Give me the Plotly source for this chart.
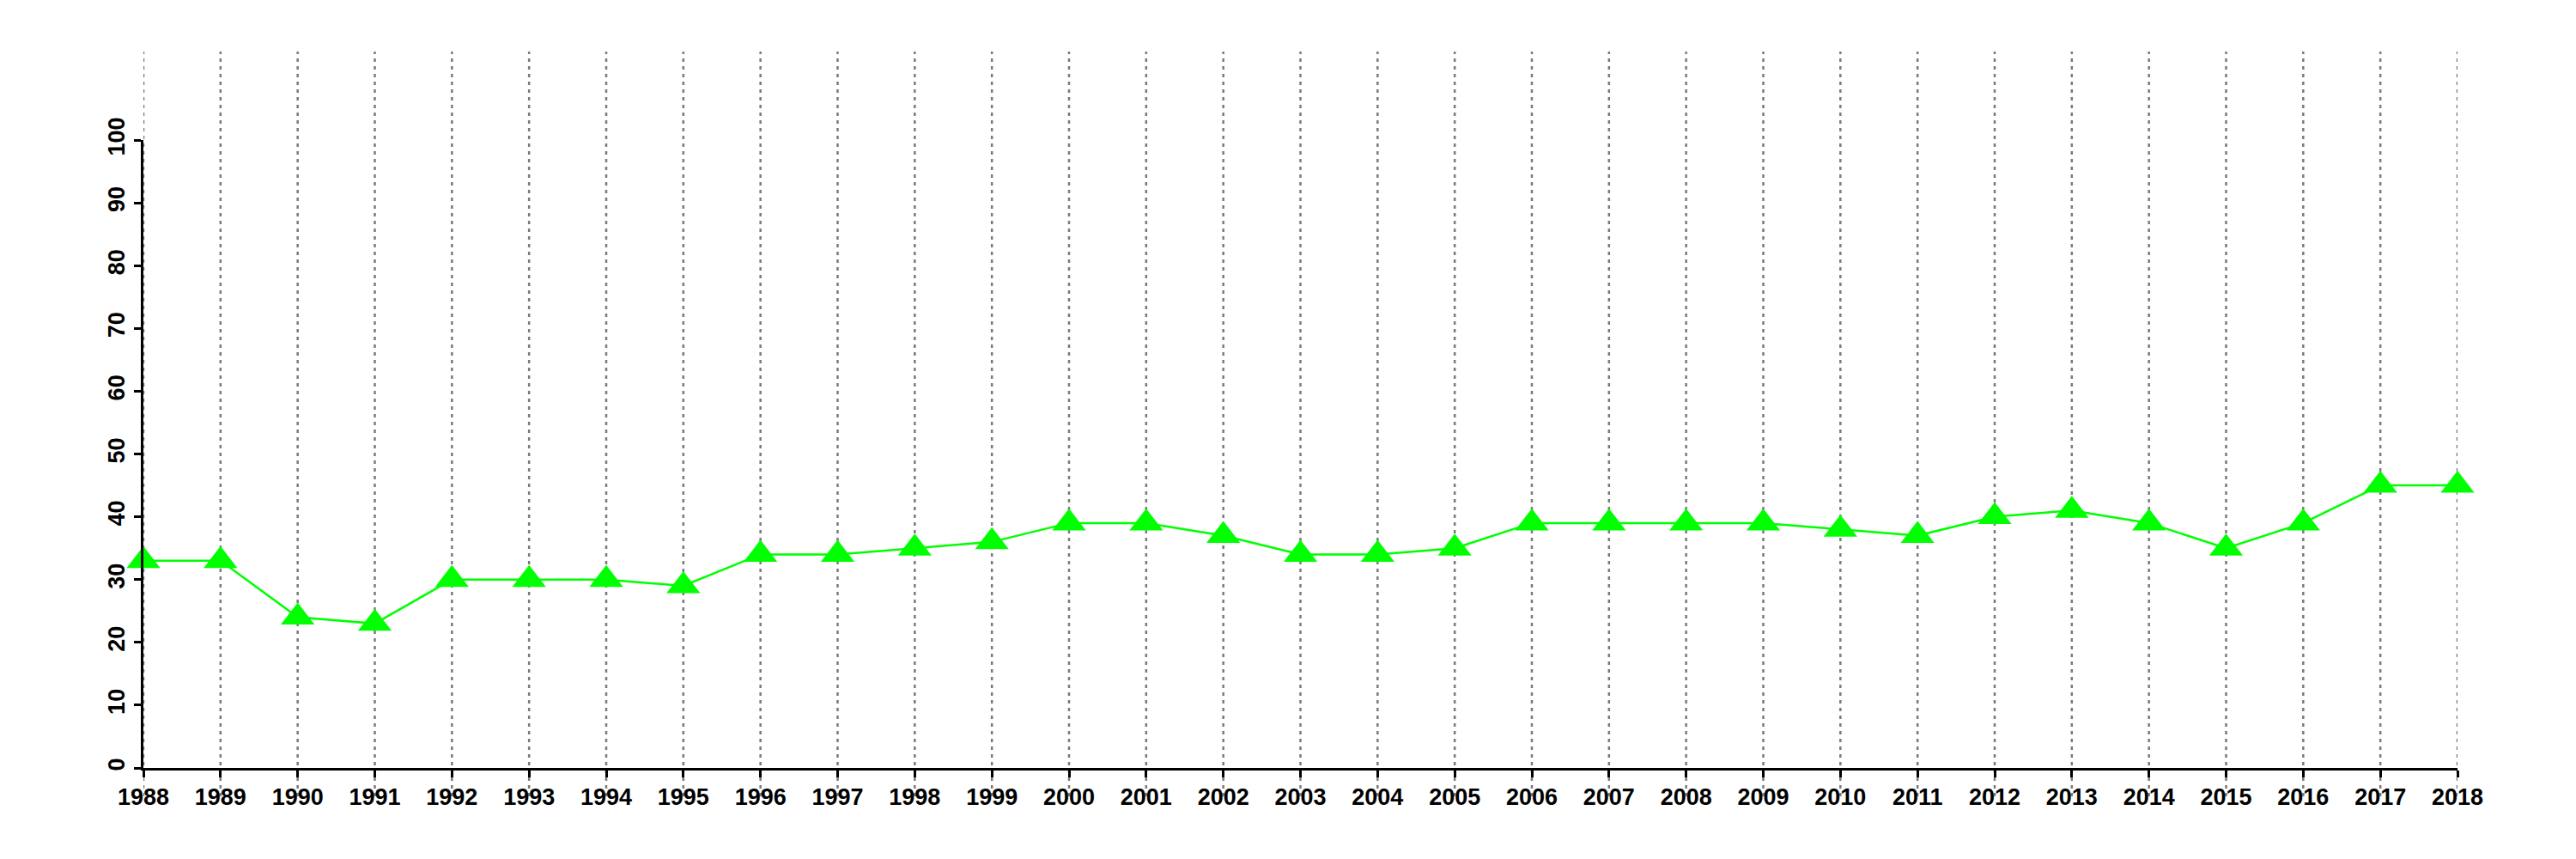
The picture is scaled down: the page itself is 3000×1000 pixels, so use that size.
import plotly.graph_objects as go

years = list(range(1988, 2019))
values = [33, 33, 24, 23, 30, 30, 30, 29, 34, 34, 35, 36, 39, 39, 37, 34, 34, 35,
          39, 39, 39, 39, 38, 37, 40, 41, 39, 35, 39, 45, 45]
y_ticks = list(range(0, 101, 10))

fig = go.Figure()

fig.add_trace(go.Scatter(
    x=years, y=values, mode="lines+markers",
    line=dict(color="#00FF00", width=2.5),
    marker=dict(symbol="triangle-up", size=34, color="#00FF00", line=dict(width=0)),
    cliponaxis=False, showlegend=False,
))

for yr in years:
    fig.add_shape(type="line", xref="x", yref="paper", x0=yr, x1=yr, y0=-0.045, y1=1.141,
                  line=dict(color="#7a7a7a", width=2.5, dash="4px,5px"), layer="below")

font = dict(family="Liberation Sans, Arial, sans-serif", size=27, color="black")

fig.update_layout(
    width=3000, height=1000,
    margin=dict(l=159, r=146, t=155, b=114),
    plot_bgcolor="white", paper_bgcolor="white",
    xaxis=dict(range=[1988, 2018], tickvals=years, ticktext=[f"<b>{y}</b>" for y in years],
               showline=True, linecolor="black", linewidth=2.5, ticks="outside", ticklen=8,
               tickwidth=2.5, tickcolor="black", showgrid=False, zeroline=False,
               tickfont=font, tickangle=0),
    yaxis=dict(range=[0, 100], tickvals=y_ticks, ticktext=[f"<b>{v}</b>" for v in y_ticks],
               showline=True, linecolor="black", linewidth=2.5, ticks="outside", ticklen=8,
               tickwidth=2.5, tickcolor="black", showgrid=False, zeroline=False,
               tickfont=font, tickangle=-90),
)

fig.write_html("out.html")
